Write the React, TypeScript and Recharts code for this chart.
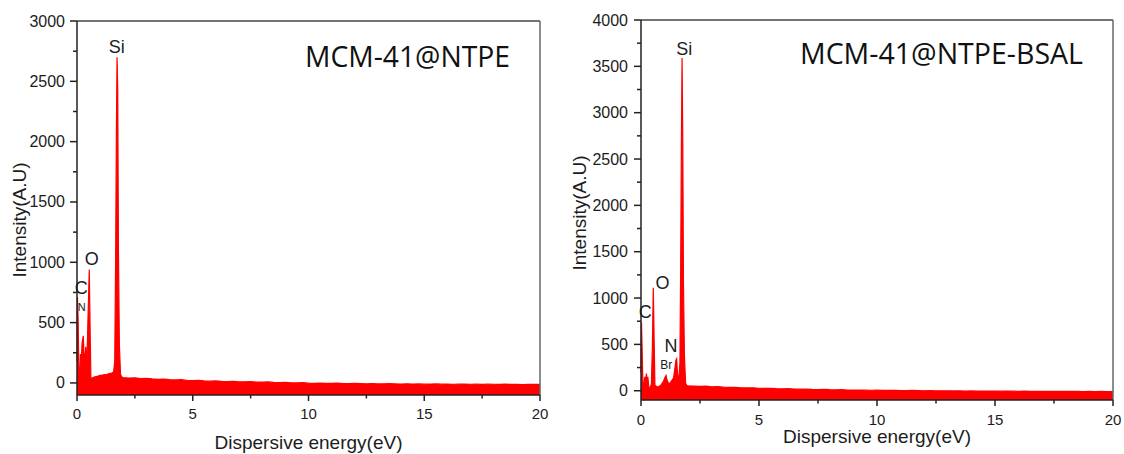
import React from 'react';
import { AreaChart, Area, XAxis, YAxis, ReferenceLine, ReferenceDot } from 'recharts';

// ---------- MCM-41@NTPE spectrum ----------
const ntpePeakEnergy = [
  0.0, 0.02, 0.05, 0.08, 0.11, 0.15, 0.18, 0.22, 0.27, 0.32, 0.38, 0.42, 0.47, 0.53, 0.57, 0.6,
  0.66, 0.74, 0.82, 0.9, 1.0, 1.1, 1.2, 1.3, 1.4, 1.5, 1.58, 1.63, 1.67, 1.7, 1.73, 1.76, 1.79,
  1.83, 1.88, 1.94,
];
const ntpePeakCounts = [
  180, 710, 520, 90, 15, 240, 160, 330, 390, 150, 300, 110, 500, 940, 400, 40,
  40, 48, 52, 56, 62, 66, 70, 72, 78, 82, 90, 180, 1050, 2050, 2700, 2420, 1100,
  320, 70, 48,
];

// ---------- MCM-41@NTPE-BSAL spectrum ----------
const bsalPeakEnergy = [
  0.0, 0.02, 0.05, 0.08, 0.12, 0.16, 0.19, 0.23, 0.26, 0.29, 0.33, 0.38, 0.44, 0.48, 0.52, 0.55,
  0.59, 0.66, 0.74, 0.84, 0.94, 1.02, 1.06, 1.11, 1.18, 1.25, 1.32, 1.38, 1.43, 1.48, 1.51, 1.55,
  1.6, 1.65, 1.68, 1.71, 1.74, 1.77, 1.8, 1.84, 1.89, 1.94,
];
const bsalPeakCounts = [
  200, 740, 420, 80, 60, 150, 90, 185, 110, 150, 40, 30, 70, 450, 1110, 650,
  60, 45, 42, 60, 95, 145, 165, 110, 72, 90, 115, 140, 230, 330, 345, 170,
  130, 300, 1300, 2600, 3590, 2700, 1150, 380, 80, 56,
];

// Background (bremsstrahlung) region shared energy grid, keV
const tailEnergy = [
  2.0, 2.25, 2.5, 2.75, 3.0, 3.25, 3.5, 3.75, 4.0, 4.25, 4.5, 4.75, 5.0, 5.25, 5.5, 5.75,
  6.0, 6.25, 6.5, 6.75, 7.0, 7.25, 7.5, 7.75, 8.0, 8.25, 8.5, 8.75, 9.0, 9.25, 9.5, 9.75,
  10.0, 10.25, 10.5, 10.75, 11.0, 11.25, 11.5, 11.75, 12.0, 12.25, 12.5, 12.75, 13.0, 13.25, 13.5, 13.75,
  14.0, 14.25, 14.5, 14.75, 15.0, 15.25, 15.5, 15.75, 16.0, 16.25, 16.5, 16.75, 17.0, 17.25, 17.5, 17.75,
  18.0, 18.25, 18.5, 18.75, 19.0, 19.25, 19.5, 19.75, 20.0,
];
const ntpeTailCounts = [
  44, 40, 42, 36, 38, 33, 30, 32, 27, 25, 27, 21, 20, 22, 17, 15,
  17, 13, 12, 14, 10, 9, 11, 7, 6, 8, 4, 3, 5, 1, 0, 2,
  -2, -3, -1, -4, -4, -2, -5, -6, -4, -6, -7, -5, -8, -7, -6, -8,
  -9, -7, -9, -8, -10, -9, -8, -10, -9, -11, -10, -9, -11, -10, -12, -10,
  -11, -12, -10, -12, -11, -13, -11, -12, -12,
];
const bsalTailCounts = [
  54, 50, 47, 49, 42, 44, 38, 36, 37, 32, 30, 31, 27, 25, 26, 22,
  21, 22, 18, 17, 18, 14, 13, 14, 11, 10, 11, 8, 7, 8, 6, 5,
  6, 4, 3, 4, 2, 2, 3, 1, 0, 1, -1, 0, -1, -2, -1, -3,
  -2, -3, -4, -3, -4, -5, -4, -5, -6, -5, -6, -7, -6, -7, -8, -7,
  -8, -8, -7, -9, -8, -9, -8, -9, -9,
];

// Element annotations (name, energy keV, intensity level of the label centre)
const ntpeElements = ['Si', 'O', 'C', 'N'];
const ntpeElementEnergy = [1.715, 0.635, 0.186, 0.203];
const ntpeElementLevel = [2784, 1033, 793, 627];

const bsalElements = ['Si', 'O', 'C', 'N', 'Br'];
const bsalElementEnergy = [1.835, 0.915, 0.182, 1.27, 1.07];
const bsalElementLevel = [3692, 1167, 850, 483, 278];

// Axis ticks
const xTicks = [0, 2.5, 5, 7.5, 10, 12.5, 15, 17.5, 20];
const ntpeYTicks = [0, 250, 500, 750, 1000, 1250, 1500, 1750, 2000, 2250, 2500, 2750, 3000];
const bsalYTicks = [
  0, 250, 500, 750, 1000, 1250, 1500, 1750, 2000, 2250, 2500, 2750, 3000, 3250, 3500, 3750, 4000,
];

const titles = ['MCM-41@NTPE', 'MCM-41@NTPE-BSAL'];

const toRows = (e: number[], c: number[]) => e.map((energy, i) => ({ energy, counts: c[i] }));
const ntpeRows = [...toRows(ntpePeakEnergy, ntpePeakCounts), ...toRows(tailEnergy, ntpeTailCounts)];
const bsalRows = [...toRows(bsalPeakEnergy, bsalPeakCounts), ...toRows(tailEnergy, bsalTailCounts)];

const AXIS = '#222';
const TEXT = '#1c1c1c';
const RED = '#ff0000';
const FONT = '"Liberation Sans", Arial, sans-serif';

const makeXTick = (labelGap: number) => (props: any) => {
  const { x, y, payload } = props;
  const v = payload.value as number;
  const major = v % 5 === 0;
  return (
    <g>
      <line x1={x} x2={x} y1={y} y2={y + (major ? 6 : 3.5)} stroke={AXIS} strokeWidth={1.5} />
      {major && (
        <text x={x} y={y + labelGap} textAnchor="middle" fontSize={15} fill={TEXT} fontFamily={FONT}>
          {v}
        </text>
      )}
    </g>
  );
};

const makeYTick = (labelGap: number) => (props: any) => {
  const { x, y, payload } = props;
  const v = payload.value as number;
  const major = v % 500 === 0;
  return (
    <g>
      <line x1={x - (major ? 7 : 4)} x2={x} y1={y} y2={y} stroke={AXIS} strokeWidth={1.5} />
      {major && (
        <text x={x - labelGap} y={y + 5.5} textAnchor="end" fontSize={16} fill={TEXT} fontFamily={FONT}>
          {v}
        </text>
      )}
    </g>
  );
};

type PanelProps = {
  rows: { energy: number; counts: number }[];
  yMax: number;
  yTicks: number[];
  names: string[];
  energies: number[];
  levels: number[];
  width: number;
  margin: { top: number; right: number; bottom: number; left: number };
  yAxisWidth: number;
  xAxisHeight: number;
  xLabelGap: number;
  yLabelGap: number;
  xTitleOffset: number;
  yTitleDx: number;
  yTitleDy: number;
};

function SpectrumPanel(p: PanelProps) {
  return (
    <AreaChart width={p.width} height={454} data={p.rows} margin={p.margin}>
      <XAxis
        type="number"
        dataKey="energy"
        domain={[0, 20]}
        ticks={xTicks}
        interval={0}
        tickSize={0}
        tickMargin={0}
        tickLine={false}
        height={p.xAxisHeight}
        axisLine={{ stroke: AXIS, strokeWidth: 1.5 }}
        tick={makeXTick(p.xLabelGap)}
        label={{
          value: 'Dispersive energy(eV)',
          position: 'insideBottom',
          offset: p.xTitleOffset,
          fontSize: 19,
          fill: TEXT,
          fontFamily: FONT,
        }}
      />
      <YAxis
        type="number"
        domain={[-100, p.yMax]}
        ticks={p.yTicks}
        interval={0}
        tickSize={0}
        tickMargin={0}
        tickLine={false}
        width={p.yAxisWidth}
        axisLine={{ stroke: AXIS, strokeWidth: 1.5 }}
        tick={makeYTick(p.yLabelGap)}
        label={{
          value: 'Intensity(A.U)',
          angle: -90,
          position: 'center',
          dx: p.yTitleDx,
          dy: p.yTitleDy,
          fontSize: 19,
          fill: TEXT,
          fontFamily: FONT,
        }}
      />
      <Area
        type="linear"
        dataKey="counts"
        baseValue={-100}
        stroke={RED}
        strokeWidth={1.2}
        fill={RED}
        fillOpacity={1}
        isAnimationActive={false}
        dot={false}
        activeDot={false}
      />
      <ReferenceLine y={p.yMax} stroke="#444" strokeWidth={1.5} />
      <ReferenceLine x={20} stroke="#666" strokeWidth={1.5} />
      {p.names.map((n, i) => (
        <ReferenceDot
          key={n}
          x={p.energies[i]}
          y={p.levels[i]}
          r={0}
          fill="none"
          stroke="none"
          label={{
            value: n,
            position: 'center',
            fontSize: n === 'Br' ? 12 : n === 'N' && p.names.length === 4 ? 11 : 18,
            fill: TEXT,
            fontFamily: FONT,
          }}
        />
      ))}
    </AreaChart>
  );
}

export default function App() {
  return (
    <div style={{ position: 'absolute', left: 0, top: 0, width: 1124, height: 454, background: '#fff' }}>
      <div style={{ position: 'absolute', left: 0, top: 0 }}>
        <SpectrumPanel
          rows={ntpeRows}
          yMax={3000}
          yTicks={ntpeYTicks}
          names={ntpeElements}
          energies={ntpeElementEnergy}
          levels={ntpeElementLevel}
          width={560}
          margin={{ top: 21, right: 20, bottom: 0, left: 0 }}
          yAxisWidth={77}
          xAxisHeight={59}
          xLabelGap={23.5}
          yLabelGap={12}
          xTitleOffset={5}
          yTitleDx={-19.5}
          yTitleDy={12}
        />
      </div>
      <div style={{ position: 'absolute', left: 560, top: 0 }}>
        <SpectrumPanel
          rows={bsalRows}
          yMax={4000}
          yTicks={bsalYTicks}
          names={bsalElements}
          energies={bsalElementEnergy}
          levels={bsalElementLevel}
          width={564}
          margin={{ top: 20, right: 11, bottom: 0, left: 0 }}
          yAxisWidth={81}
          xAxisHeight={54}
          xLabelGap={24.5}
          yLabelGap={13}
          xTitleOffset={11}
          yTitleDx={-21.5}
          yTitleDy={3}
        />
      </div>
      <svg
        width={1124}
        height={454}
        style={{ position: 'absolute', left: 0, top: 0, pointerEvents: 'none' }}
      >
        <text
          x={305}
          y={67}
          fontSize={30}
          fontFamily='"Open Sans", "Noto Sans", sans-serif'
          fill="#111"
          textLength={205}
          lengthAdjust="spacingAndGlyphs"
        >
          {titles[0]}
        </text>
        <text
          x={800}
          y={64}
          fontSize={30}
          fontFamily='"Open Sans", "Noto Sans", sans-serif'
          fill="#111"
          textLength={283}
          lengthAdjust="spacingAndGlyphs"
        >
          {titles[1]}
        </text>
      </svg>
    </div>
  );
}
